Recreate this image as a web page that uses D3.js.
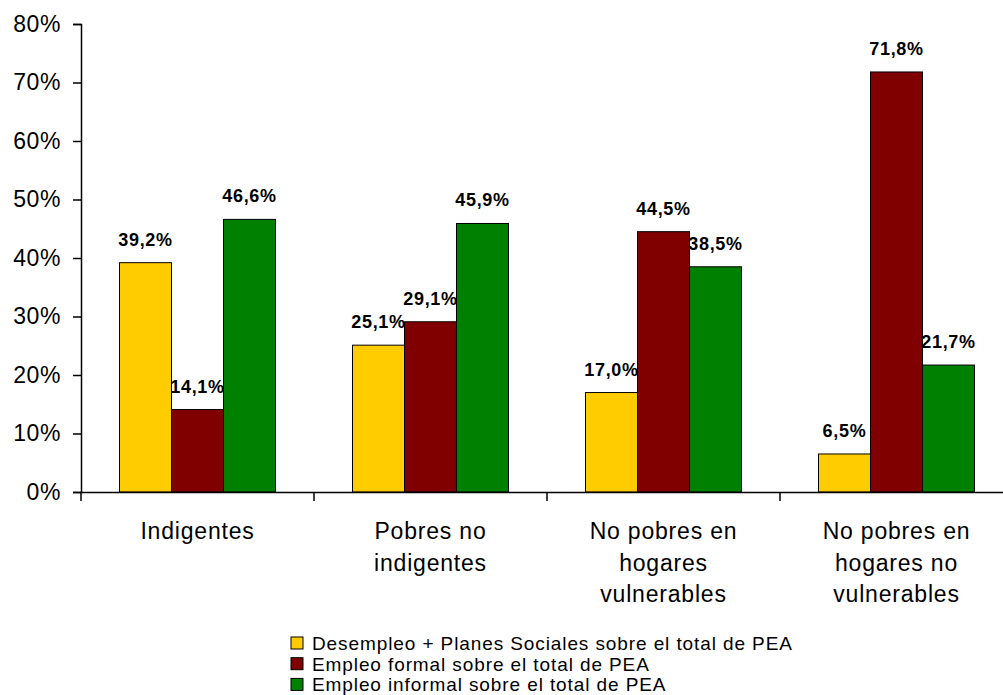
<!DOCTYPE html>
<html>
<head>
<meta charset="utf-8">
<script src="https://cdn.jsdelivr.net/npm/d3@7"></script>
<style>
  body { margin: 0; background: #fff; }
  svg { font-family: "Liberation Sans", Arial, sans-serif; }
</style>
</head>
<body>
<div id="chart"></div>
<script>
// categories, series and values
const categories = ["Indigentes", "Pobres no indigentes", "No pobres en hogares vulnerables", "No pobres en hogares no vulnerables"];
const categoryLines = [["Indigentes"], ["Pobres no", "indigentes"], ["No pobres en", "hogares", "vulnerables"], ["No pobres en", "hogares no", "vulnerables"]];
const seriesNames = ["Desempleo + Planes Sociales sobre el total de PEA", "Empleo formal sobre el total de PEA", "Empleo informal sobre el total de PEA"];
const desempleo = [39.2, 25.1, 17.0, 6.5];
const formal = [14.1, 29.1, 44.5, 71.8];
const informal = [46.6, 45.9, 38.5, 21.7];
const yTicks = [0, 10, 20, 30, 40, 50, 60, 70, 80];
const colors = ["#FFCC00", "#800000", "#008000"];

const series = [desempleo, formal, informal];

const width = 1003, height = 695;
const svg = d3.select("#chart").append("svg")
    .attr("width", width)
    .attr("height", height);

//Scales
const x = d3.scaleBand().domain(categories).range([81, 1013]);
const y = d3.scaleLinear().domain([0, 80]).range([492, 24]);
const barW = 52;
const xs = d3.scaleBand().domain(d3.range(series.length)).range([-barW * 1.5, barW * 1.5]);

//Y axis
const yAxis = svg.append("g")
    .attr("transform", "translate(81,0)")
    .call(d3.axisLeft(y).tickValues(yTicks).tickSize(8).tickPadding(12).tickFormat(d => d + "%"));
yAxis.select(".domain").attr("stroke", "#000").attr("stroke-width", 1.5);
yAxis.selectAll(".tick line").attr("stroke", "#000").attr("stroke-width", 1.5);
yAxis.selectAll(".tick text").attr("font-size", 23).attr("fill", "#000")
    .attr("letter-spacing", 0.6)
    .attr("font-family", "'Liberation Sans', Arial, sans-serif");

//Bars
series.forEach((vals, si) => {
    svg.append("g").selectAll("rect")
        .data(vals)
        .enter()
        .append("rect")
        .attr("x", (d, i) => x(categories[i]) + x.bandwidth() / 2 + xs(si))
        .attr("y", d => y(d))
        .attr("width", barW)
        .attr("height", d => y(0) - y(d))
        .attr("fill", colors[si])
        .attr("stroke", "#000")
        .attr("stroke-width", 1);

    svg.append("g").selectAll("text")
        .data(vals)
        .enter()
        .append("text")
        .attr("x", (d, i) => x(categories[i]) + x.bandwidth() / 2 + xs(si) + barW / 2)
        .attr("y", d => y(d) - 17)
        .attr("text-anchor", "middle")
        .attr("font-size", 18)
        .attr("font-weight", "bold")
        .attr("letter-spacing", 0.7)
        .attr("fill", "#000")
        .text(d => d.toFixed(1).replace(".", ",") + "%");
});

//X axis
const xAxis = svg.append("g")
    .attr("transform", `translate(0,${y(0)})`)
    .call(d3.axisBottom(x).tickSize(0).tickFormat(""));
xAxis.select(".domain").attr("stroke", "#000").attr("stroke-width", 1.5);
// boundary ticks between categories
svg.append("g").selectAll("line")
    .data(categories)
    .enter()
    .append("line")
    .attr("x1", d => x(d))
    .attr("x2", d => x(d))
    .attr("y1", y(0))
    .attr("y2", y(0) + 9)
    .attr("stroke", "#000")
    .attr("stroke-width", 1.5);

//Category labels
categories.forEach((c, i) => {
    const cx = x(c) + x.bandwidth() / 2;
    const t = svg.append("text")
        .attr("x", cx)
        .attr("y", 539)
        .attr("text-anchor", "middle")
        .attr("font-size", 23)
        .attr("letter-spacing", 0.8)
        .attr("fill", "#000");
    categoryLines[i].forEach((line, li) => {
        t.append("tspan")
            .attr("x", cx)
            .attr("dy", li === 0 ? 0 : 31.5)
            .text(line);
    });
});

//Legend
const legend = svg.append("g").attr("transform", "translate(291,637)");
seriesNames.forEach((name, i) => {
    const g = legend.append("g").attr("transform", `translate(0,${i * 20.7})`);
    g.append("rect")
        .attr("width", 12).attr("height", 12)
        .attr("fill", colors[i])
        .attr("stroke", "#000").attr("stroke-width", 1);
    g.append("text")
        .attr("x", 21).attr("y", 13)
        .attr("font-size", 19)
        .attr("letter-spacing", 0.9)
        .attr("fill", "#000")
        .text(name);
});
</script>
</body>
</html>
